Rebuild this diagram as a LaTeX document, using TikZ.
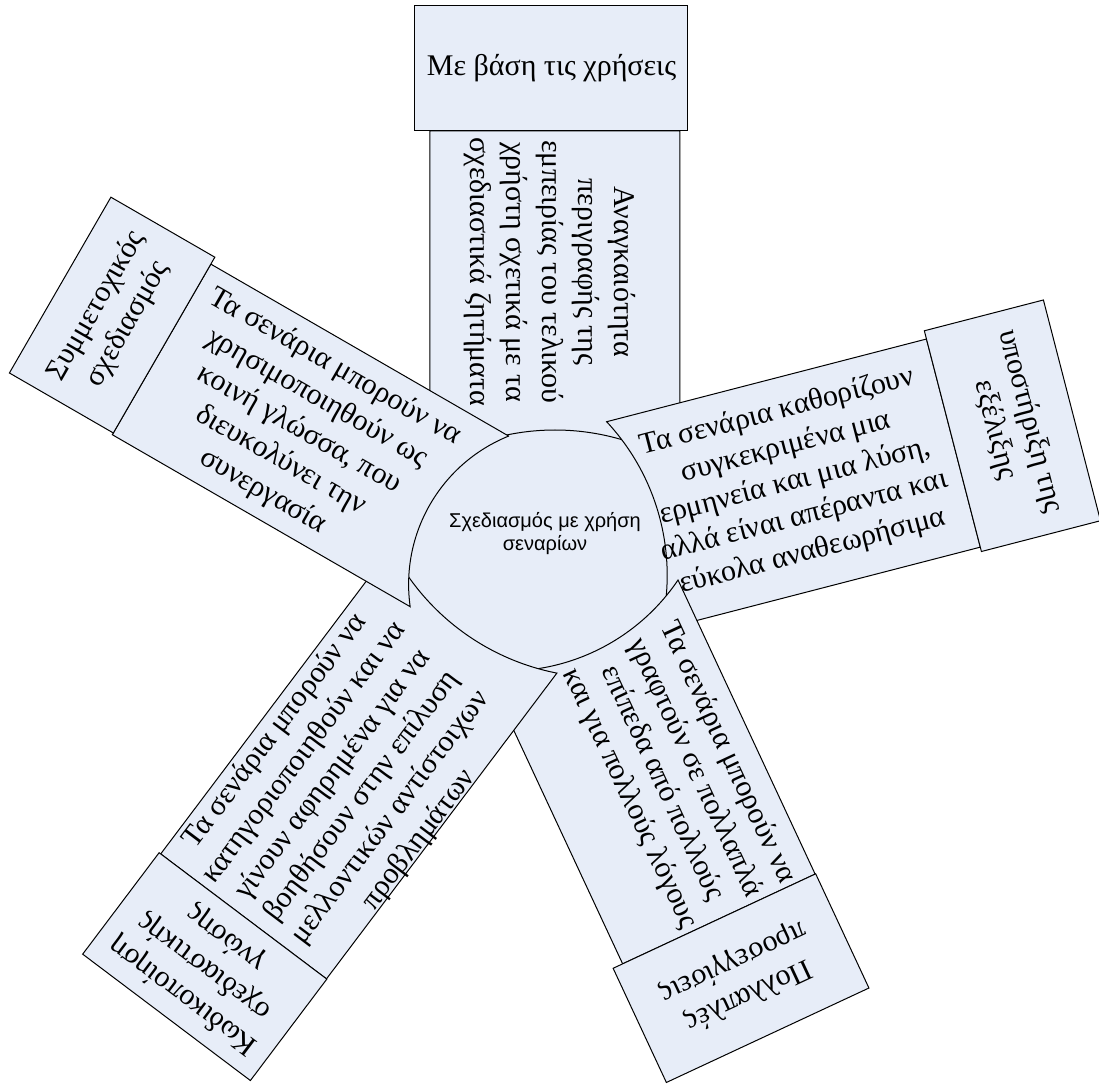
\documentclass[tikz,border=0pt]{standalone}
\usepackage{fontspec}
\setmainfont{Liberation Serif}
\setsansfont{Liberation Sans}
\definecolor{partblue}{RGB}{231,237,248}
\tikzset{
  part/.style={draw=black,fill=partblue,line width=0.5pt},
  armtext/.style={align=center,font=\fontsize{15}{18}\selectfont,inner sep=0pt},
  boxtext/.style={align=center,font=\fontsize{15}{18}\selectfont,inner sep=0pt},
}
\begin{document}
\begin{tikzpicture}[x=0.5pt,y=0.5pt]
\useasboundingbox (-540,-540) rectangle (559,550);
\fill[partblue] (0,0) circle (145);
% arms, clockwise from the top; each one lies over the one before
\foreach \nm/\ang/\lo/\hi/\off/\uin/\ra/\uout/\blo/\bhi/\bout/\tu/\tv/\trot/\lab/\txt in {
  top/90/-140/110/-15/120/236/419/-148/125/544/278/-10/-90/{Με βάση τις χρήσεις}/{Αναγκαιότητα\\περιγραφής της\\εμπειρίας του τελικού\\χρήστη σχετικά με τα\\σχεδιαστικά ζητήματα},
  right/14.5/-107.5/107.5/0/124/225/427/-112/116/550/264/2/14.5/{υποστήριξη της\\εξέλιξης}/{Τα σενάρια καθορίζουν\\συγκεκριμένα μια\\ερμηνεία και μια λύση,\\αλλά είναι απέραντα και\\εύκολα αναθεωρήσιμα},
  lowr/-65/-100/112.4/6/115/207/410/-110.5/113/536/263/30/-65/{Πολλαπλές\\προσεγγίσεις}/{Τα σενάρια μπορούν να\\γραφτούν σε πολλαπλά\\επίπεδα από πολλούς\\και για πολλούς λόγους},
  lowl/233/-120/87.6/-16/112/237/471/-122/88/598/304/-12/53/{Κωδικοποίηση\\σχεδιαστικής\\γνώσης}/{Τα σενάρια μπορούν να\\κατηγοριοποιηθούν και να\\γίνουν αφηρημένα για να\\βοηθήσουν στην επίλυση\\μελλοντικών αντίστοιχων\\προβλημάτων},
  left/150/-83/114/15.5/118/160/428/-91/112/548/269/16/-30/{Συμμετοχικός\\σχεδιασμός}/{Τα σενάρια μπορούν να\\χρησιμοποιηθούν ως\\κοινή γλώσσα, που\\διευκολύνει την\\συνεργασία}}{
  \pgfmathsetmacro\alo{asin((\lo-\off)/\ra)}
  \pgfmathsetmacro\ahi{asin((\hi-\off)/\ra)}
  \begin{scope}[rotate=\ang]
    \draw[part] ({\uin-\ra+\ra*cos(\alo)},\lo) -- (\uout,\lo) -- (\uout,\hi)
      -- ({\uin-\ra+\ra*cos(\ahi)},\hi) arc[start angle=\ahi,end angle=\alo,radius=\ra] -- cycle;
    \draw[part] (\uout,\blo) rectangle (\bout,\bhi);
    \node[armtext,rotate=\trot] (arm\nm) at (\tu,\tv) {\txt};
    \node[boxtext,rotate=\ang-90] (box\nm) at ({(\uout+\bout)/2},{(\blo+\bhi)/2}) {\lab};
  \end{scope}
}
\node[font=\sffamily\fontsize{10}{11.5}\selectfont,align=center] (core) at (5,16) {Σχεδιασμός με χρήση\\σεναρίων};
\end{tikzpicture}
\end{document}
